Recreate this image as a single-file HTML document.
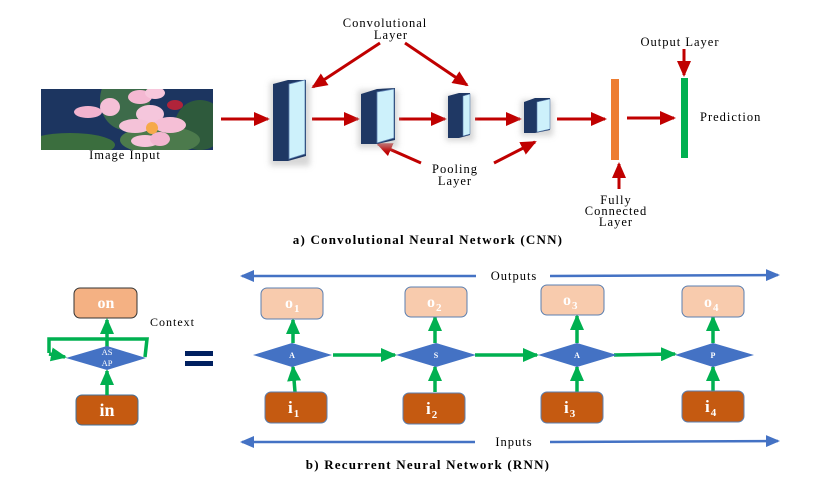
<!DOCTYPE html>
<html><head><meta charset="utf-8"><style>
html,body{margin:0;padding:0;background:#fff;}
svg{display:block;}
text{font-family:"Liberation Serif",serif;}
</style></head><body>
<svg width="830" height="485" viewBox="0 0 830 485" xmlns="http://www.w3.org/2000/svg">
<defs>
<marker id="rb" markerWidth="16" markerHeight="14" refX="14" refY="7" orient="auto" markerUnits="userSpaceOnUse"><path d="M0,0 L16,7 L0,14 z" fill="#c00000"/></marker>
<marker id="g" markerWidth="16" markerHeight="14" refX="14" refY="7" orient="auto" markerUnits="userSpaceOnUse"><path d="M0,0 L16,7 L0,14 z" fill="#00b050"/></marker>
<marker id="b" markerWidth="14" markerHeight="12" refX="12" refY="6" orient="auto" markerUnits="userSpaceOnUse"><path d="M0,0 L14,6 L0,12 z" fill="#4472c4"/></marker>
<filter id="sh" x="-50%" y="-20%" width="200%" height="140%"><feGaussianBlur stdDeviation="3"/></filter>
<clipPath id="img"><rect x="41" y="89" width="172" height="61"/></clipPath>
</defs>

<g clip-path="url(#img)">
<rect x="41" y="89" width="172" height="61" fill="#1c3560"/>
<ellipse cx="125" cy="100" rx="25" ry="30" fill="#3d6b4a"/>
<ellipse cx="200" cy="125" rx="25" ry="25" fill="#2e5a3c"/>
<ellipse cx="70" cy="145" rx="45" ry="12" fill="#3b6e3e"/>
<ellipse cx="160" cy="140" rx="40" ry="14" fill="#4c7a4c"/>
<ellipse cx="88" cy="112" rx="14" ry="6" fill="#f2b3cf"/>
<ellipse cx="110" cy="107" rx="10" ry="9" fill="#f5c0d6"/>
<ellipse cx="140" cy="97" rx="12" ry="7" fill="#f4b8d2"/>
<ellipse cx="155" cy="93" rx="10" ry="6" fill="#f7c7dc"/>
<ellipse cx="175" cy="105" rx="8" ry="5" fill="#b0243a"/>
<ellipse cx="150" cy="114" rx="14" ry="9" fill="#f5c6dc"/>
<ellipse cx="135" cy="126" rx="16" ry="7" fill="#f4c2d8"/>
<ellipse cx="170" cy="125" rx="16" ry="8" fill="#f5bfd6"/>
<ellipse cx="145" cy="141" rx="14" ry="6" fill="#f6c4da"/>
<ellipse cx="160" cy="139" rx="10" ry="7" fill="#f3b6d0"/>
<circle cx="152" cy="128" r="6" fill="#f6a94a"/>
</g>
<text x="125" y="159" font-size="12.5" letter-spacing="1" text-anchor="middle">Image Input</text>

<g stroke="#c00000" stroke-width="3" fill="none">
<line x1="221" y1="119" x2="268" y2="119" marker-end="url(#rb)"/>
<line x1="312" y1="119" x2="358" y2="119" marker-end="url(#rb)"/>
<line x1="399" y1="119" x2="445" y2="119" marker-end="url(#rb)"/>
<line x1="475" y1="119" x2="520" y2="119" marker-end="url(#rb)"/>
<line x1="557" y1="119" x2="605" y2="119" marker-end="url(#rb)"/>
<line x1="627" y1="118" x2="674" y2="118" marker-end="url(#rb)"/>
<line x1="380" y1="43" x2="313" y2="87" marker-end="url(#rb)"/>
<line x1="405" y1="43" x2="467" y2="85" marker-end="url(#rb)"/>
<line x1="421" y1="163" x2="378" y2="144" marker-end="url(#rb)"/>
<line x1="494" y1="163" x2="535" y2="142" marker-end="url(#rb)"/>
<line x1="684" y1="49" x2="684" y2="75" marker-end="url(#rb)"/>
<line x1="619" y1="189" x2="619" y2="164" marker-end="url(#rb)"/>
</g>

<g>
<rect x="270" y="82" width="40" height="84" fill="#bbb" filter="url(#sh)" opacity="0.6"/>
<path d="M273,84 L288,80 L306,80 L306,156 L288,161 L273,161 z" fill="#1f3864"/>
<path d="M289,84 L305,80 L305,154 L289,159 z" fill="#cdf1fb" stroke="#5b7fb0" stroke-width="0.8"/>
<rect x="358" y="90" width="40" height="58" fill="#bbb" filter="url(#sh)" opacity="0.6"/>
<path d="M361,94 L377,89 L395,88 L395,140 L377,144 L361,144 z" fill="#1f3864"/>
<path d="M377,92 L394,89 L394,138 L377,143 z" fill="#cdf1fb" stroke="#5b7fb0" stroke-width="0.8"/>
<rect x="446" y="95" width="28" height="46" fill="#bbb" filter="url(#sh)" opacity="0.6"/>
<path d="M448,96 L459,93 L470,93 L470,135 L459,138 L448,138 z" fill="#1f3864"/>
<path d="M463,96 L470,94 L470,134 L463,136 z" fill="#cdf1fb" stroke="#5b7fb0" stroke-width="0.6"/>
<rect x="521" y="100" width="32" height="36" fill="#bbb" filter="url(#sh)" opacity="0.6"/>
<path d="M524,102 L535,98 L550,98 L550,130 L535,133 L524,133 z" fill="#1f3864"/>
<path d="M537,102 L550,99 L550,129 L537,132 z" fill="#cdf1fb" stroke="#5b7fb0" stroke-width="0.6"/>
</g>
<rect x="611" y="79" width="8" height="81" fill="#ed7d31"/>
<rect x="681" y="78" width="7" height="80" fill="#00b050"/>

<g font-size="12.5" letter-spacing="1" text-anchor="middle">
<text x="385" y="27">Convolutional</text>
<text x="391" y="39">Layer</text>
<text x="455" y="173">Pooling</text>
<text x="455" y="185">Layer</text>
<text x="680" y="46">Output Layer</text>
<text x="616" y="204">Fully</text>
<text x="616" y="215">Connected</text>
<text x="616" y="226">Layer</text>
<text x="700" y="121" text-anchor="start">Prediction</text>
<text x="428" y="244" font-weight="bold" font-size="13" letter-spacing="1.2">a) Convolutional Neural Network (CNN)</text>
<text x="428" y="469" font-weight="bold" font-size="13" letter-spacing="1.2">b) Recurrent Neural Network (RNN)</text>
</g>

<rect x="74" y="288" width="63" height="30" rx="6" fill="#f4b183" stroke="#333" stroke-width="1"/>
<text x="106" y="308" font-size="16" font-weight="bold" fill="#fff" text-anchor="middle">on</text>
<rect x="76" y="395" width="62" height="30" rx="6" fill="#c55a11" stroke="#41719c" stroke-width="1"/>
<text x="107" y="416" font-size="18" font-weight="bold" fill="#fff" text-anchor="middle">in</text>
<g stroke="#00b050" stroke-width="3.5" fill="none">
<line x1="107" y1="395" x2="107" y2="371" marker-end="url(#g)"/>
<line x1="107" y1="347" x2="107" y2="320" marker-end="url(#g)"/>
<polyline points="145,357 147,339 49,339 49,353"/>
<line x1="49" y1="354" x2="65" y2="357" marker-end="url(#g)"/>
</g>
<polygon points="66,358 107,346 146,358 107,370" fill="#4472c4"/>
<text x="107" y="355" font-size="8.5" fill="#fff" text-anchor="middle">AS</text>
<text x="107" y="366" font-size="8.5" fill="#fff" text-anchor="middle">AP</text>
<text x="150" y="326" font-size="12" letter-spacing="1">Context</text>
<rect x="185" y="351" width="28" height="5" fill="#002060"/>
<rect x="185" y="361" width="28" height="5" fill="#002060"/>

<g stroke="#4472c4" stroke-width="2.5" fill="none">
<line x1="476" y1="276" x2="242" y2="276" marker-end="url(#b)"/>
<line x1="550" y1="276" x2="778" y2="275" marker-end="url(#b)"/>
<line x1="475" y1="442" x2="242" y2="442" marker-end="url(#b)"/>
<line x1="550" y1="442" x2="778" y2="441" marker-end="url(#b)"/>
</g>
<text x="514" y="280" font-size="12.5" letter-spacing="1" text-anchor="middle">Outputs</text>
<text x="514" y="446" font-size="12.5" letter-spacing="1" text-anchor="middle">Inputs</text>

<g stroke="#00b050" stroke-width="3.5" fill="none">
<line x1="333" y1="355" x2="395" y2="355" marker-end="url(#g)"/>
<line x1="475" y1="355" x2="537" y2="355" marker-end="url(#g)"/>
<line x1="614" y1="355" x2="675" y2="354" marker-end="url(#g)"/>
<line x1="295" y1="392" x2="293" y2="367" marker-end="url(#g)"/>
<line x1="293" y1="343" x2="293" y2="320" marker-end="url(#g)"/>
<line x1="435" y1="392" x2="435" y2="367" marker-end="url(#g)"/>
<line x1="435" y1="343" x2="435" y2="317" marker-end="url(#g)"/>
<line x1="577" y1="392" x2="577" y2="367" marker-end="url(#g)"/>
<line x1="577" y1="343" x2="577" y2="316" marker-end="url(#g)"/>
<line x1="713" y1="391" x2="713" y2="367" marker-end="url(#g)"/>
<line x1="713" y1="343" x2="713" y2="317" marker-end="url(#g)"/>
</g>
<g fill="#f8cbad" stroke="#5b7fb0" stroke-width="1">
<rect x="261" y="288" width="62" height="31" rx="6"/>
<rect x="405" y="287" width="62" height="30" rx="6"/>
<rect x="541" y="285" width="63" height="30" rx="6"/>
<rect x="682" y="286" width="62" height="31" rx="6"/>
</g>
<g fill="#c55a11" stroke="#5b7fb0" stroke-width="1">
<rect x="265" y="392" width="62" height="31" rx="6"/>
<rect x="403" y="393" width="62" height="31" rx="6"/>
<rect x="541" y="392" width="62" height="31" rx="6"/>
<rect x="682" y="391" width="62" height="31" rx="6"/>
</g>
<g fill="#4472c4">
<polygon points="253,355 292,343 332,355 292,367"/>
<polygon points="396,355 436,343 476,355 436,367"/>
<polygon points="538,355 577,343 617,355 577,367"/>
<polygon points="675,355 713,343 754,355 713,367"/>
</g>
<g fill="#fff" font-size="8" font-weight="bold" text-anchor="middle">
<text x="292" y="358">A</text><text x="436" y="358">S</text><text x="577" y="358">A</text><text x="713" y="358">P</text>
</g>
<g fill="#fff" font-weight="bold" font-size="16" letter-spacing="1">
<text x="285" y="308">o<tspan font-size="11" dy="4">1</tspan></text>
<text x="427" y="307">o<tspan font-size="11" dy="4">2</tspan></text>
<text x="563" y="305">o<tspan font-size="11" dy="4">3</tspan></text>
<text x="704" y="307">o<tspan font-size="11" dy="4">4</tspan></text>
<text x="288" y="413" font-size="17">i<tspan font-size="11" dy="4">1</tspan></text>
<text x="426" y="414" font-size="17">i<tspan font-size="11" dy="4">2</tspan></text>
<text x="564" y="413" font-size="17">i<tspan font-size="11" dy="4">3</tspan></text>
<text x="705" y="412" font-size="17">i<tspan font-size="11" dy="4">4</tspan></text>
</g>
</svg>
</body></html>
